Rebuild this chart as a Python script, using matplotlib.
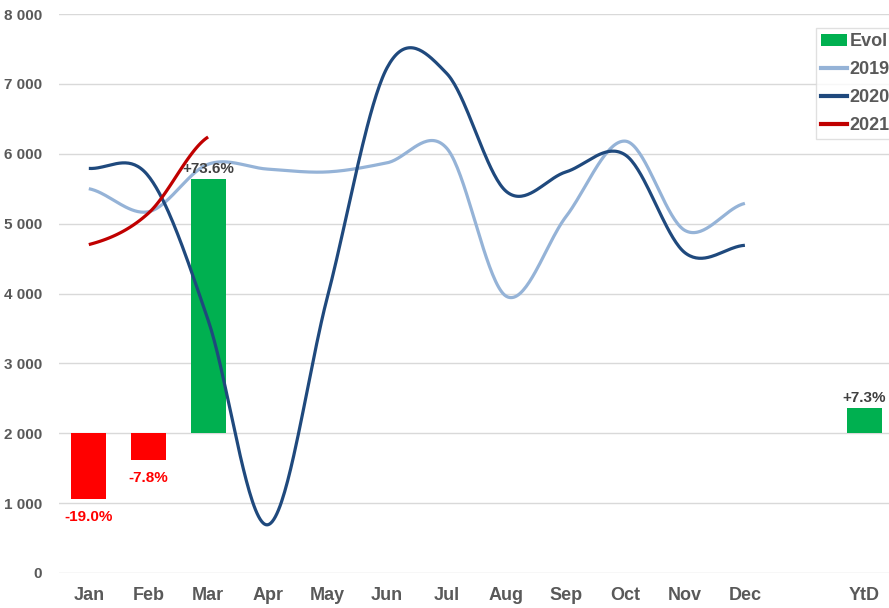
import numpy as np
import matplotlib
matplotlib.use("Agg")
import matplotlib.pyplot as plt
from matplotlib.patches import Patch
from matplotlib.lines import Line2D
from matplotlib.ticker import FuncFormatter, MultipleLocator

categories = ["Jan", "Feb", "Mar", "Apr", "May", "Jun", "Jul", "Aug", "Sep", "Oct", "Nov", "Dec", "", "YtD"]
sales_2019 = [5500, 5170, 5850, 5780, 5740, 5870, 6080, 3960, 5100, 6180, 4900, 5290]
sales_2020 = [5790, 5680, 3620, 690, 3950, 7230, 7150, 5460, 5740, 5980, 4580, 4690]
sales_2021 = [4700, 5150, 6240]
evol_pct = [-19.0, -7.8, 73.6, None, None, None, None, None, None, None, None, None, None, 7.3]
evol_labels = ["-19.0%", "-7.8%", "+73.6%", "", "", "", "", "", "", "", "", "", "", "+7.3%"]
evol_base = 2000
evol_scale = 49.5  # units per percent

C_GREEN = "#00B050"
C_RED = "#FF0000"
C_2019 = "#95B3D7"
C_2020 = "#1F497D"
C_2021 = "#C00000"
C_TEXT = "#595959"

plt.rcParams['font.family'] = ['Liberation Sans', 'DejaVu Sans']


def smooth(vals, n=40):
    p = np.asarray(vals, dtype=float)
    x = np.arange(len(p), dtype=float)
    xs, ys = [], []
    for i in range(len(p) - 1):
        p0 = p[i - 1] if i > 0 else p[i]
        p3 = p[i + 2] if i + 2 < len(p) else p[i + 1]
        p1, p2 = p[i], p[i + 1]
        c1 = p1 + (p2 - p0) / 6.0
        c2 = p2 - (p3 - p1) / 6.0
        t = np.linspace(0, 1, n)
        y = (1 - t) ** 3 * p1 + 3 * (1 - t) ** 2 * t * c1 + 3 * (1 - t) * t ** 2 * c2 + t ** 3 * p2
        xs.append(x[i] + t)
        ys.append(y)
    return np.concatenate(xs), np.concatenate(ys)


fig = plt.figure(figsize=(8.89, 6.08), dpi=100)
ax = fig.add_axes([59 / 889, 35 / 608, 835 / 889, 559 / 608])

# Evol bars
for i, pct in enumerate(evol_pct):
    if pct is None:
        continue
    h = pct * evol_scale
    col = C_GREEN if pct >= 0 else C_RED
    ax.bar(i, h, bottom=evol_base, width=0.59, color=col, zorder=2)
    if pct >= 0:
        ax.annotate(evol_labels[i], (i, evol_base + h), xytext=(0, 2), textcoords="offset points",
                    ha="center", va="bottom", fontsize=11, fontweight="bold", color="#404040", zorder=5)
    else:
        ax.annotate(evol_labels[i], (i, evol_base + h), xytext=(0, -8), textcoords="offset points",
                    ha="center", va="top", fontsize=11, fontweight="bold", color=C_RED, zorder=5)

for vals, col in [(sales_2019, C_2019), (sales_2020, C_2020), (sales_2021, C_2021)]:
    xs, ys = smooth(vals)
    ax.plot(xs, ys, color=col, lw=2.3, solid_capstyle="butt", zorder=3)

ax.set_xlim(-0.5, 13.5)
ax.set_ylim(0, 8000)
ax.yaxis.set_major_locator(MultipleLocator(1000))
ax.yaxis.set_major_formatter(FuncFormatter(lambda v, p: f"{int(v):,}".replace(",", " ")))
ax.set_xticks(range(len(categories)))
ax.set_xticklabels(categories)
ax.grid(axis="y", color="#D9D9D9", lw=1)
ax.set_axisbelow(True)
for s in ax.spines.values():
    s.set_visible(False)
ax.tick_params(axis="both", length=0, colors=C_TEXT)
ax.tick_params(axis="y", labelsize=11, pad=12)
ax.tick_params(axis="x", labelsize=13, pad=10)
for lbl in ax.get_xticklabels() + ax.get_yticklabels():
    lbl.set_fontweight("bold")

handles = [Patch(facecolor=C_GREEN, edgecolor="none"),
           Line2D([], [], color=C_2019, lw=3),
           Line2D([], [], color=C_2020, lw=3),
           Line2D([], [], color=C_2021, lw=3)]
leg = fig.legend(handles, ["Evol", "2019", "2020", "2021"], loc="upper left",
                 bbox_to_anchor=(816 / 889, 1 - 28 / 608), frameon=True, fancybox=False,
                 prop={"size": 13, "weight": "bold"}, handlelength=1.4, handletextpad=0.15,
                 labelspacing=0.6, borderpad=0.3, borderaxespad=0)
leg.get_frame().set_edgecolor("#D9D9D9")
leg.get_frame().set_linewidth(1)
for t in leg.get_texts():
    t.set_color(C_TEXT)

fig.savefig("out.png", dpi=100)
